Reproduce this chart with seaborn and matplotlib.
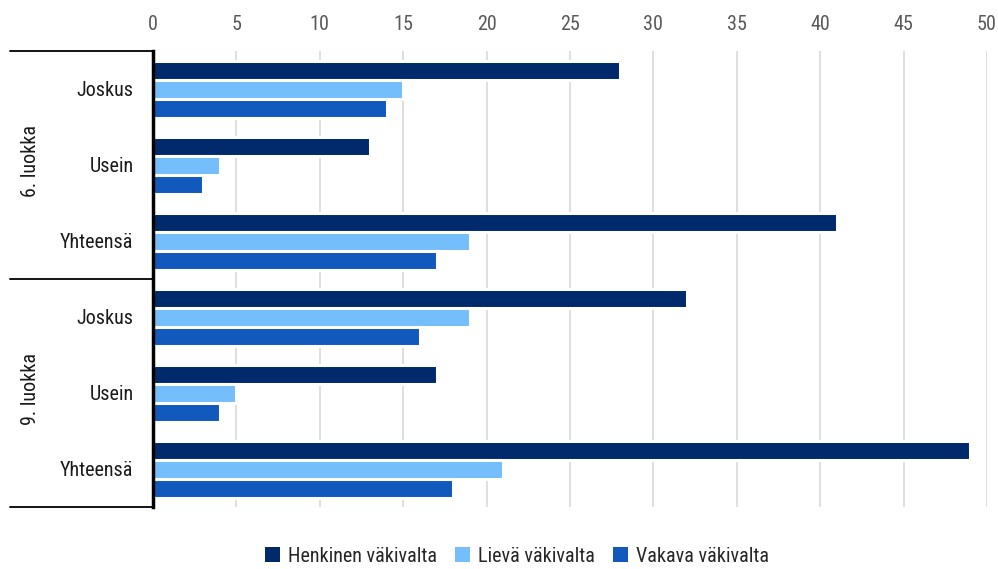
import matplotlib
matplotlib.use("Agg")
import matplotlib.pyplot as plt
import seaborn as sns
import pandas as pd
from matplotlib.patches import Patch
from matplotlib import font_manager as fm

groups = ["6. luokka", "9. luokka"]
subcats = ["Joskus", "Usein", "Yhteensä"]
series = ["Henkinen väkivalta", "Lievä väkivalta", "Vakava väkivalta"]
henkinen = [28, 13, 41, 32, 17, 49]
lieva = [15, 4, 19, 19, 5, 21]
vakava = [14, 3, 17, 16, 4, 18]
colors = ["#002a6b", "#74befc", "#1259bd"]
xticks = [0, 5, 10, 15, 20, 25, 30, 35, 40, 45, 50]

keys = [f"{g}|{s}" for g in groups for s in subcats]
rows = []
for name, vals in zip(series, [henkinen, lieva, vakava]):
    for k, v in zip(keys, vals):
        rows.append({"cat": k, "series": name, "value": v})
df = pd.DataFrame(rows)

sns.set_theme(style="white")
plt.rcParams["font.family"] = ["DejaVu Sans"]

# find a condensed / narrow font if available
def pick_font():
    prefs = ["robotocondensed", "liberationsansnarrow", "opensanscondensed",
             "notosanscondensed", "dejavusanscondensed", "narrow", "condensed"]
    cands = []
    for f in fm.fontManager.ttflist:
        fn = f.fname.lower().replace("-", "").replace("_", "").replace(" ", "")
        nm = f.name.lower().replace(" ", "")
        if ("condensed" in fn or "narrow" in fn or "condensed" in nm or "narrow" in nm
                or str(f.stretch) in ("condensed", "semi-condensed")):
            if "bold" in fn or "italic" in fn or "oblique" in fn or "light" in fn \
                    or "extra" in fn or "ultra" in fn or "semi" in fn or "medium" in fn \
                    or "black" in fn or "thin" in fn:
                continue
            cands.append(f)
    for p in prefs:
        for f in cands:
            fn = f.fname.lower().replace("-", "").replace("_", "").replace(" ", "")
            if p in fn:
                return fm.FontProperties(fname=f.fname)
    return fm.FontProperties(family="DejaVu Sans", stretch="condensed")

base = pick_font()

def fp(size):
    p = base.copy()
    p.set_size(size)
    return p

fig = plt.figure(figsize=(9.98, 5.69), dpi=100)
ax = fig.add_axes([153 / 998, 1 - 507 / 569, (987 - 153) / 998, (507 - 51) / 569])

ax.set_axisbelow(True)
ax.grid(axis="x", color="#d9d9d9", linewidth=1.2)
sns.barplot(data=df, y="cat", x="value", hue="series", order=keys,
            hue_order=series, palette=colors, saturation=1, width=0.75, gap=0,
            edgecolor="white", linewidth=2.2, orient="h", ax=ax, legend=False)

ax.set_xlim(0, 50)
ax.set_ylim(5.5, -0.5)
ax.set_xticks(xticks)
ax.set_xticklabels([str(t) for t in xticks], fontproperties=fp(14.5), color="#595959")
ax.xaxis.tick_top()
ax.tick_params(axis="x", length=0, pad=12.5)
ax.set_yticks(range(len(keys)))
ax.set_yticklabels([k.split("|")[1] for k in keys], fontproperties=fp(14.5), color="#1a1a1a")
ax.tick_params(axis="y", length=0, pad=14)
ax.set_xlabel("")
ax.set_ylabel("")
for s in ["top", "right", "bottom"]:
    ax.spines[s].set_visible(False)
ax.spines["left"].set_color("black")
ax.spines["left"].set_linewidth(2.5)

tr = ax.get_yaxis_transform()
x0 = -(153 - 10) / (987 - 153)
for yb in [-0.5, 2.5, 5.5]:
    ax.plot([x0, 0], [yb, yb], color="black", lw=1.3, transform=tr, clip_on=False)
for i, g in enumerate(groups):
    ax.text(-(153 - 30) / (987 - 153), i * 3 + 0.95, g, transform=tr, rotation=90,
            ha="center", va="center", fontproperties=fp(14.5), color="#1a1a1a")

handles = [Patch(facecolor=c, edgecolor="none") for c in colors]
fig.legend(handles, series, loc="center", bbox_to_anchor=(517 / 998, 1 - 556 / 569),
           ncol=3, frameon=False, prop=fp(14.5), handlelength=0.75, handleheight=0.75,
           handletextpad=0.4, columnspacing=0.9)

fig.savefig("out.png", dpi=100)
